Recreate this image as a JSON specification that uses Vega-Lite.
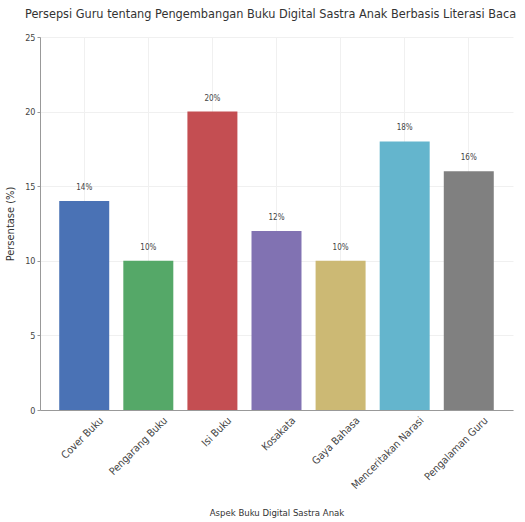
{
  "$schema": "https://vega.github.io/schema/vega-lite/v6.json",
  "autosize": {"type": "none"},
  "padding": {"left": 40, "top": 37, "right": 12, "bottom": 112},
  "width": 473,
  "height": 373,
  "background": "white",
  "title": {
    "text": "Persepsi Guru tentang Pengembangan Buku Digital Sastra Anak Berbasis Literasi Baca",
    "anchor": "start",
    "frame": "group",
    "dx": -15,
    "offset": 12,
    "font": "DejaVu Sans Condensed",
    "fontSize": 12.6,
    "fontWeight": "normal",
    "color": "#333333"
  },
  "data": {
    "values": [
      {"aspek": "Cover Buku", "persen": 14, "label": "14%"},
      {"aspek": "Pengarang Buku", "persen": 10, "label": "10%"},
      {"aspek": "Isi Buku", "persen": 20, "label": "20%"},
      {"aspek": "Kosakata", "persen": 12, "label": "12%"},
      {"aspek": "Gaya Bahasa", "persen": 10, "label": "10%"},
      {"aspek": "Menceritakan Narasi", "persen": 18, "label": "18%"},
      {"aspek": "Pengalaman Guru", "persen": 16, "label": "16%"}
    ]
  },
  "config": {
    "view": {"stroke": null},
    "axis": {
      "labelFont": "DejaVu Sans Condensed",
      "titleFont": "DejaVu Sans Condensed",
      "labelColor": "#444444",
      "titleColor": "#333333",
      "labelFontSize": 9,
      "titleFontSize": 9.5,
      "titleFontWeight": "normal",
      "gridColor": "#f0f0f0",
      "domainColor": "#999999",
      "tickColor": "#999999",
      "tickSize": 3
    }
  },
  "encoding": {
    "x": {
      "field": "aspek",
      "type": "nominal",
      "sort": null,
      "title": "Aspek Buku Digital Sastra Anak",
      "scale": {"paddingInner": 0.22, "paddingOuter": 0.3},
      "axis": {"labelAngle": -45, "labelAlign": "right", "labelBaseline": "top", "labelFontSize": 10.5, "labelOffset": 14, "grid": true, "titlePadding": 16, "ticks": false, "labelPadding": 5}
    },
    "y": {
      "field": "persen",
      "type": "quantitative",
      "title": "Persentase (%)",
      "scale": {"domain": [0, 25]},
      "axis": {"values": [0, 5, 10, 15, 20, 25], "grid": true, "titlePadding": 9, "titleFontSize": 11}
    }
  },
  "layer": [
    {
      "mark": {"type": "bar"},
      "encoding": {
        "color": {
          "field": "aspek",
          "type": "nominal",
          "sort": null,
          "legend": null,
          "scale": {
            "domain": ["Cover Buku", "Pengarang Buku", "Isi Buku", "Kosakata", "Gaya Bahasa", "Menceritakan Narasi", "Pengalaman Guru"],
            "range": ["#4a72b5", "#55a868", "#c44e52", "#8172b2", "#ccb974", "#64b5cd", "#808080"]
          }
        }
      }
    },
    {
      "mark": {"type": "text", "dy": -13, "font": "DejaVu Sans Condensed", "fontSize": 8, "color": "#444444"},
      "encoding": {
        "text": {"field": "label", "type": "nominal"}
      }
    }
  ]
}
